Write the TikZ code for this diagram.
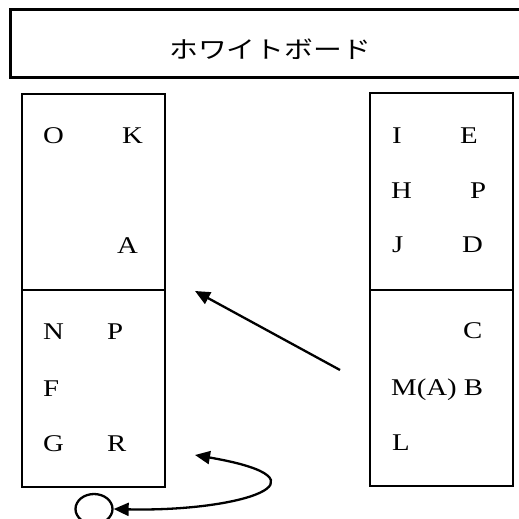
\documentclass[tikz,border=0pt]{standalone}
\usepackage{fontspec}
\setmainfont{Liberation Serif}
\newfontfamily\cjk{Noto Sans CJK JP}
\usetikzlibrary{arrows.meta,shapes.geometric}

% horizontally widened lettering
\newcommand{\widetxt}[1]{\scalebox{1.2}[1]{#1}}

\tikzset{
  panel/.style={draw, line width=2.8pt, minimum width=143pt, inner sep=0pt, outer sep=0pt},
  seat/.style={anchor=base west, inner sep=0pt, font=\fontsize{24}{28}\selectfont},
  link/.style={line width=2.3pt, -{Triangle[length=15pt,width=13pt]}},
  dlink/.style={line width=2.3pt, {Triangle[length=15pt,width=13pt]}-{Triangle[length=15pt,width=13pt]}},
}

\begin{document}
\begin{tikzpicture}[x=1pt,y=-1pt]
\useasboundingbox (0,0) rectangle (519,519);
\clip (0,0) rectangle (519,519);

% whiteboard along the top
\node[draw, line width=3pt, minimum width=520pt, minimum height=67pt, inner sep=0pt]
  (board) at (270,43.5) {};
\node[inner sep=0pt, font=\cjk\fontsize{24}{28}\selectfont] (boardlabel) at (270,49)
  {\widetxt{ホワイトボード}};

% left table: two halves
\node[panel, minimum height=196pt] (ltop) at (93.5,192) {};
\node[panel, minimum height=197pt] (lbot) at (93.5,388.5) {};

% right table: two halves
\node[panel, minimum height=197pt] (rtop) at (441.5,191.5) {};
\node[panel, minimum height=196pt] (rbot) at (441.5,388) {};

% seats, left table
\node[seat] (O) at (43,143) {\widetxt{O}};
\node[seat] (K) at (122,143) {\widetxt{K}};
\node[seat] (A) at (117,253) {\widetxt{A}};
\node[seat] (N) at (43,339) {\widetxt{N}};
\node[seat] (P1) at (107,339) {\widetxt{P}};
\node[seat] (F) at (43,396) {\widetxt{F}};
\node[seat] (G) at (43,451) {\widetxt{G}};
\node[seat] (R) at (107,451) {\widetxt{R}};

% seats, right table
\node[seat] (I) at (392,143) {\widetxt{I}};
\node[seat] (E) at (460,143) {\widetxt{E}};
\node[seat] (H) at (391,198) {\widetxt{H}};
\node[seat] (P2) at (470,198) {\widetxt{P}};
\node[seat] (J) at (392,252) {\widetxt{J}};
\node[seat] (D) at (462,252) {\widetxt{D}};
\node[seat] (C) at (463,338) {\widetxt{C}};
\node[seat] (MB) at (391,395) {\widetxt{M(A) B}};
\node[seat] (L) at (392,450) {\widetxt{L}};

% small circle below the left table
\node[draw, ellipse, line width=2.3pt, minimum width=37pt, minimum height=30pt, inner sep=0pt]
  (spot) at (94,509) {};

% moves
\coordinate (m1from) at (340,370);
\coordinate (m1to) at (195,291);
\draw[link] (m1from) -- (m1to);

\coordinate (m2end) at (195,455);
\draw[dlink] (spot.east) .. controls (240,512) and (340,480) .. (m2end);
\end{tikzpicture}
\end{document}
